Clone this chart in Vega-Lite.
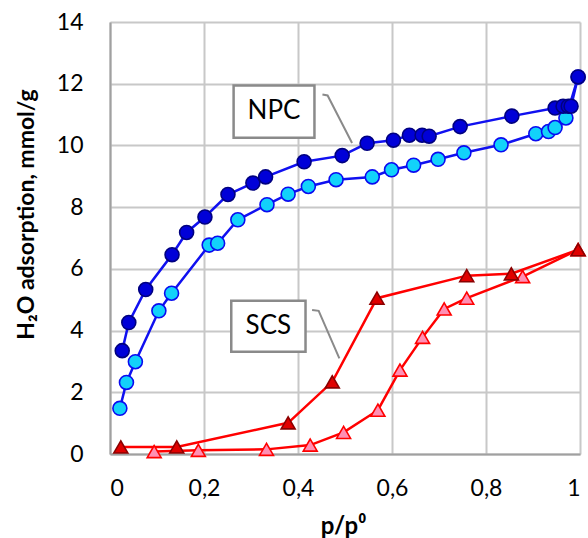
{
  "$schema": "https://vega.github.io/schema/vega-lite/v6.json",
  "width": 470,
  "height": 432,
  "autosize": {"type": "none"},
  "padding": {"left": 110, "top": 22, "right": 8, "bottom": 84},
  "background": "white",
  "config": {
    "view": {"stroke": null},
    "font": "Lato",
    "axis": {
      "grid": true,
      "gridColor": "#C8C8C8",
      "gridWidth": 2,
      "domainColor": "#A0A0A0",
      "domainWidth": 2,
      "ticks": false,
      "labelFontSize": 23,
      "labelColor": "#000000",
      "labelFont": "Lato",
      "titleFont": "Lato",
      "titleColor": "#000000",
      "titleFontWeight": "bold"
    }
  },
  "datasets": {
    "iso": [
      {"series": "NPC des", "p": 0.021, "v": 1.48},
      {"series": "NPC des", "p": 0.035, "v": 2.32},
      {"series": "NPC des", "p": 0.054, "v": 2.99},
      {"series": "NPC des", "p": 0.104, "v": 4.64},
      {"series": "NPC des", "p": 0.131, "v": 5.21},
      {"series": "NPC des", "p": 0.211, "v": 6.77},
      {"series": "NPC des", "p": 0.229, "v": 6.83},
      {"series": "NPC des", "p": 0.272, "v": 7.59},
      {"series": "NPC des", "p": 0.334, "v": 8.08},
      {"series": "NPC des", "p": 0.379, "v": 8.42},
      {"series": "NPC des", "p": 0.422, "v": 8.67},
      {"series": "NPC des", "p": 0.481, "v": 8.89},
      {"series": "NPC des", "p": 0.558, "v": 8.98},
      {"series": "NPC des", "p": 0.599, "v": 9.21},
      {"series": "NPC des", "p": 0.646, "v": 9.36},
      {"series": "NPC des", "p": 0.698, "v": 9.55},
      {"series": "NPC des", "p": 0.753, "v": 9.76},
      {"series": "NPC des", "p": 0.832, "v": 10.02},
      {"series": "NPC des", "p": 0.906, "v": 10.38},
      {"series": "NPC des", "p": 0.933, "v": 10.45},
      {"series": "NPC des", "p": 0.947, "v": 10.58},
      {"series": "NPC des", "p": 0.970, "v": 10.89},
      {"series": "NPC des", "p": 0.996, "v": 12.22},
      {"series": "SCS des", "p": 0.094, "v": 0.08},
      {"series": "SCS des", "p": 0.188, "v": 0.12},
      {"series": "SCS des", "p": 0.333, "v": 0.15},
      {"series": "SCS des", "p": 0.426, "v": 0.29},
      {"series": "SCS des", "p": 0.497, "v": 0.70},
      {"series": "SCS des", "p": 0.570, "v": 1.42},
      {"series": "SCS des", "p": 0.617, "v": 2.72},
      {"series": "SCS des", "p": 0.665, "v": 3.78},
      {"series": "SCS des", "p": 0.711, "v": 4.70},
      {"series": "SCS des", "p": 0.759, "v": 5.05},
      {"series": "SCS des", "p": 0.878, "v": 5.75},
      {"series": "SCS des", "p": 0.996, "v": 6.62},
      {"series": "NPC ads", "p": 0.026, "v": 3.35},
      {"series": "NPC ads", "p": 0.040, "v": 4.26},
      {"series": "NPC ads", "p": 0.076, "v": 5.33},
      {"series": "NPC ads", "p": 0.132, "v": 6.46},
      {"series": "NPC ads", "p": 0.163, "v": 7.18},
      {"series": "NPC ads", "p": 0.202, "v": 7.68},
      {"series": "NPC ads", "p": 0.251, "v": 8.41},
      {"series": "NPC ads", "p": 0.304, "v": 8.78},
      {"series": "NPC ads", "p": 0.331, "v": 8.98},
      {"series": "NPC ads", "p": 0.413, "v": 9.47},
      {"series": "NPC ads", "p": 0.494, "v": 9.67},
      {"series": "NPC ads", "p": 0.547, "v": 10.07},
      {"series": "NPC ads", "p": 0.603, "v": 10.17},
      {"series": "NPC ads", "p": 0.637, "v": 10.33},
      {"series": "NPC ads", "p": 0.664, "v": 10.33},
      {"series": "NPC ads", "p": 0.679, "v": 10.30},
      {"series": "NPC ads", "p": 0.745, "v": 10.61},
      {"series": "NPC ads", "p": 0.855, "v": 10.95},
      {"series": "NPC ads", "p": 0.947, "v": 11.21},
      {"series": "NPC ads", "p": 0.964, "v": 11.27},
      {"series": "NPC ads", "p": 0.975, "v": 11.27},
      {"series": "NPC ads", "p": 0.981, "v": 11.27},
      {"series": "NPC ads", "p": 0.996, "v": 12.22},
      {"series": "SCS ads", "p": 0.023, "v": 0.23},
      {"series": "SCS ads", "p": 0.142, "v": 0.23},
      {"series": "SCS ads", "p": 0.379, "v": 1.01},
      {"series": "SCS ads", "p": 0.473, "v": 2.34},
      {"series": "SCS ads", "p": 0.568, "v": 5.05},
      {"series": "SCS ads", "p": 0.759, "v": 5.78},
      {"series": "SCS ads", "p": 0.854, "v": 5.84},
      {"series": "SCS ads", "p": 0.996, "v": 6.62}
    ],
    "boxes": [
      {"label": "NPC", "x1": 0.263, "x2": 0.435, "y1": 10.25, "y2": 11.94, "tx": 0.349, "ty": 11.1},
      {"label": "SCS", "x1": 0.258, "x2": 0.416, "y1": 3.31, "y2": 4.97, "tx": 0.337, "ty": 4.14}
    ],
    "leaders": [
      {"label": "NPC", "k": 0, "p": 0.452, "v": 11.65},
      {"label": "NPC", "k": 1, "p": 0.463, "v": 11.62},
      {"label": "NPC", "k": 2, "p": 0.515, "v": 10.08},
      {"label": "SCS", "k": 0, "p": 0.430, "v": 4.67},
      {"label": "SCS", "k": 1, "p": 0.444, "v": 4.64},
      {"label": "SCS", "k": 2, "p": 0.488, "v": 3.10}
    ]
  },
  "layer": [
    {
      "data": {"name": "iso"},
      "mark": {"type": "line", "strokeWidth": 2.5},
      "encoding": {
        "x": {
          "field": "p", "type": "quantitative", "title": "p/p⁰",
          "scale": {"domain": [0, 1], "nice": false},
          "axis": {
            "values": [0, 0.2, 0.4, 0.6, 0.8, 1],
            "labelExpr": "datum.value == 0 ? '0' : datum.value == 1 ? '1' : replace(format(datum.value, '.1f'), '.', ',')",
            "labelPadding": 23,
            "titleFontSize": 24,
            "titleX": 233,
            "titleY": 72,
            "titleBaseline": "middle"
          }
        },
        "y": {
          "field": "v", "type": "quantitative", "title": "H₂O adsorption, mmol/g",
          "scale": {"domain": [0, 14], "nice": false},
          "axis": {
            "values": [0, 2, 4, 6, 8, 10, 12, 14],
            "labelPadding": 27,
            "titleFontSize": 23,
            "titleX": -84,
            "titleY": 192,
            "titleBaseline": "middle"
          }
        },
        "color": {
          "field": "series", "type": "nominal", "legend": null,
          "scale": {"domain": ["NPC des", "SCS des", "NPC ads", "SCS ads"], "range": ["#1010F0", "#FF0000", "#1010F0", "#FF0000"]}
        },
        "detail": {"field": "series"}
      }
    },
    {
      "data": {"name": "boxes"},
      "mark": {"type": "rect", "fill": "white", "stroke": "#8A8A8A", "strokeWidth": 2.5},
      "encoding": {
        "x": {"field": "x1", "type": "quantitative", "title": "p/p⁰"},
        "x2": {"field": "x2"},
        "y": {"field": "y1", "type": "quantitative", "title": "H₂O adsorption, mmol/g"},
        "y2": {"field": "y2"}
      }
    },
    {
      "data": {"name": "boxes"},
      "mark": {"type": "text", "fontSize": 26, "font": "Lato", "color": "#000000", "align": "center", "baseline": "middle"},
      "encoding": {
        "x": {"field": "tx", "type": "quantitative", "title": "p/p⁰"},
        "y": {"field": "ty", "type": "quantitative", "title": "H₂O adsorption, mmol/g"},
        "text": {"field": "label"}
      }
    },
    {
      "data": {"name": "leaders"},
      "mark": {"type": "line", "stroke": "#8A8A8A", "strokeWidth": 2},
      "encoding": {
        "x": {"field": "p", "type": "quantitative", "title": "p/p⁰"},
        "y": {"field": "v", "type": "quantitative", "title": "H₂O adsorption, mmol/g"},
        "detail": {"field": "label"},
        "order": {"field": "k", "type": "quantitative"}
      }
    },
    {
      "data": {"name": "iso"},
      "mark": {"type": "point", "size": 195, "strokeWidth": 1.6, "opacity": 1, "fillOpacity": 1},
      "encoding": {
        "x": {"field": "p", "type": "quantitative", "title": "p/p⁰"},
        "y": {"field": "v", "type": "quantitative", "title": "H₂O adsorption, mmol/g"},
        "shape": {
          "field": "series", "type": "nominal", "legend": null,
          "scale": {"domain": ["NPC des", "SCS des", "NPC ads", "SCS ads"], "range": ["circle", "triangle-up", "circle", "triangle-up"]}
        },
        "fill": {
          "field": "series", "type": "nominal", "legend": null,
          "scale": {"domain": ["NPC des", "SCS des", "NPC ads", "SCS ads"], "range": ["#12D2FA", "#FF8FB4", "#0000D8", "#E00000"]}
        },
        "stroke": {
          "field": "series", "type": "nominal", "legend": null,
          "scale": {"domain": ["NPC des", "SCS des", "NPC ads", "SCS ads"], "range": ["#0A0AF0", "#FF0000", "#000080", "#8B0000"]}
        }
      }
    }
  ]
}
